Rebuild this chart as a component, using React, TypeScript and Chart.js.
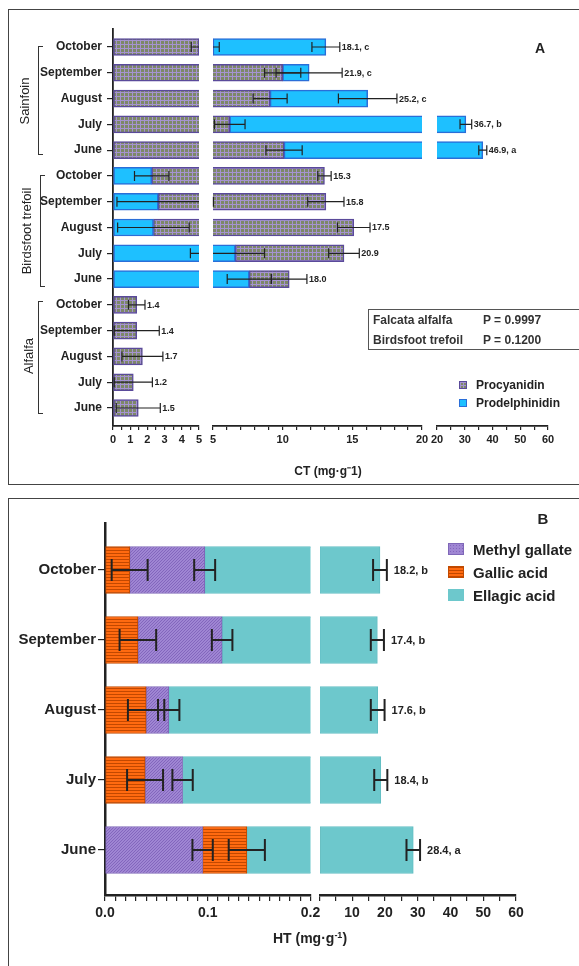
import React, { useEffect, useRef } from 'react';
import { Chart, registerables } from 'chart.js';

Chart.register(...registerables);

const FONT = "'Liberation Sans', Arial, Helvetica, sans-serif";
const INK = '#222222';
Chart.defaults.font.family = FONT;

// ---------------- Panel A : condensed tannins (CT) ----------------
const ctCategories = ['October', 'September', 'August', 'July', 'June', 'October', 'September', 'August', 'July', 'June', 'October', 'September', 'August', 'July', 'June'];
const ctGroups = ['Sainfoin', 'Birdsfoot trefoil', 'Alfalfa'];
// prodelphinidin stacked first (Birdsfoot trefoil rows)
const prodelphinidinFirst = [null, null, null, null, null, 2.25, 2.63, 2.35, 6.6, 7.6, null, null, null, null, null];
const prodelphinidinFirstErr = [null, null, null, null, null, 1.0, 2.4, 2.08, 2.1, 1.58, null, null, null, null, null];
const procyanidin = [5.0, 10.0, 9.1, 6.2, 10.1, 10.75, 10.47, 12.75, 7.8, 2.87, 1.38, 1.38, 1.71, 1.18, 1.47];
const procyanidinErr = [0.45, 1.3, 1.22, 1.1, 1.3, 0.48, 1.3, 1.17, 1.1, 1.27, 0.48, 1.31, 1.19, 1.11, 1.28];
// prodelphinidin stacked after procyanidin (Sainfoin rows)
const prodelphinidin = [8.1, 1.9, 7.0, 24.2, 26.4, null, null, null, null, null, null, null, null, null, null];
const prodelphinidinErr = [1.0, 2.37, 2.1, 2.1, 1.44, null, null, null, null, null, null, null, null, null, null];
const ctValueLabels = ['18.1, c', '21.9, c', '25.2, c', '36.7, b', '46.9, a', '15.3', '15.8', '17.5', '20.9', '18.0', '1.4', '1.4', '1.7', '1.2', '1.5'];
const ctSegRanges = [[0, 5], [5, 20], [20, 60]];
const ctTicks = [
  [0, 0.5, 1, 1.5, 2, 2.5, 3, 3.5, 4, 4.5, 5],
  [5, 6, 7, 8, 9, 10, 11, 12, 13, 14, 15, 16, 17, 18, 19, 20],
  [20, 25, 30, 35, 40, 45, 50, 55, 60],
];
const ctTickLabels = [[0, 1, 2, 3, 4, 5], [5, 10, 15, 20], [20, 30, 40, 50, 60]];

// ---------------- Panel B : hydrolysable tannins (HT) ----------------
const htCategories = ['October', 'September', 'August', 'July', 'June'];
const methylGallateFirst = [null, null, null, null, 0.095];
const methylGallateFirstErr = [null, null, null, null, 0.0099];
const gallicAcid = [0.024, 0.032, 0.040, 0.039, 0.043];
const gallicAcidErr = [0.0175, 0.0178, 0.0177, 0.0175, 0.0176];
const methylGallate = [0.073, 0.082, 0.022, 0.0365, null];
const methylGallateErr = [0.0102, 0.010, 0.0104, 0.0099, null];
const ellagicAcid = [18.4, 17.59, 17.74, 18.67, 28.52];
const ellagicAcidErr = [2.1, 2.0, 2.1, 2.0, 2.07];
const htValueLabels = ['18.2, b', '17.4, b', '17.6, b', '18.4, b', '28.4, a'];
const htSegRanges = [[0, 0.2], [0.2, 60]];
const htTicks = [
  [0, 0.01, 0.02, 0.03, 0.04, 0.05, 0.06, 0.07, 0.08, 0.09, 0.1, 0.11, 0.12, 0.13, 0.14, 0.15, 0.16, 0.17, 0.18, 0.19, 0.2],
  [0.2, 5, 10, 15, 20, 25, 30, 35, 40, 45, 50, 55, 60],
];
const htTickLabels = [[0, 0.1, 0.2], [10, 20, 30, 40, 50, 60]];

type Series = { label: string; data: (number | null)[]; err: (number | null)[]; fill: any; stroke: string };

interface SegSpec {
  canvas: HTMLCanvasElement;
  series: Series[];
  categories: string[];
  yRange: number[];
  xRange: number[];
  ticks: number[];
  tickLabels: number[];
  fmt: (v: number) => string;
  showY: boolean;
  yWidth: number;
  padding: { left: number; right: number; top: number; bottom: number };
  xAxisHeight: number;
  barThickness: number;
  barBorder: number;
  axisWidth: number;
  xTickLen: number;
  xTickPad: number;
  yTickLen: number;
  yTickPad: number;
  tickFont: number;
  catFont: number;
  valueLabels: string[];
  valueFont: number;
  valueGap: number;
  capH: number;
  errWidth: number;
}

function buildSegment(spec: SegSpec): Chart {
  const errPlugin = {
    id: 'errBars',
    afterDatasetsDraw(chart: any) {
      const { ctx } = chart;
      const xs = chart.scales.x;
      const ys = chart.scales.y;
      const n = spec.categories.length;
      const lo = spec.xRange[0];
      const hi = spec.xRange[1];
      const eps = 1e-9;
      const clampV = (v: number) => Math.max(lo, Math.min(hi, v));
      const inside = (v: number) => v >= lo - eps && v <= hi + eps;
      ctx.save();
      ctx.strokeStyle = INK;
      ctx.lineWidth = spec.errWidth;
      for (let j = 0; j < n; j++) {
        let cum = 0;
        const y = ys.getPixelForValue(j);
        for (const s of spec.series) {
          const v = s.data[j];
          if (v == null) continue;
          cum += v;
          const e = s.err[j];
          if (e == null) continue;
          const v1 = cum - e;
          const v2 = cum + e;
          if (v2 < lo - eps || v1 > hi + eps) continue;
          const p1 = xs.getPixelForValue(v1);
          const p2 = xs.getPixelForValue(v2);
          ctx.beginPath();
          ctx.moveTo(xs.getPixelForValue(clampV(v1)), y);
          ctx.lineTo(xs.getPixelForValue(clampV(v2)), y);
          if (inside(v1)) {
            ctx.moveTo(p1, y - spec.capH / 2);
            ctx.lineTo(p1, y + spec.capH / 2);
          }
          if (inside(v2)) {
            ctx.moveTo(p2, y - spec.capH / 2);
            ctx.lineTo(p2, y + spec.capH / 2);
          }
          ctx.stroke();
        }
      }
      ctx.restore();
      ctx.save();
      ctx.font = `bold ${spec.valueFont}px ${FONT}`;
      ctx.fillStyle = INK;
      ctx.textAlign = 'left';
      ctx.textBaseline = 'middle';
      for (let j = 0; j < n; j++) {
        let cum = 0;
        let lastErr = 0;
        for (const s of spec.series) {
          const v = s.data[j];
          if (v == null) continue;
          cum += v;
          lastErr = s.err[j] ?? 0;
        }
        const end = cum + lastErr;
        if (end >= lo && end <= hi) {
          ctx.fillText(spec.valueLabels[j], xs.getPixelForValue(end) + spec.valueGap, ys.getPixelForValue(j) + 0.5);
        }
      }
      ctx.restore();
    },
  };

  return new Chart(spec.canvas, {
    type: 'bar',
    data: {
      datasets: spec.series.map((s) => ({
        label: s.label,
        data: s.data.flatMap((v, j) => (v == null ? [] : [{ x: v, y: j }])),
        backgroundColor: s.fill,
        borderColor: s.stroke,
        borderWidth: spec.barBorder,
        borderSkipped: false,
        barThickness: spec.barThickness,
        clip: 0,
      })) as any,
    },
    options: {
      indexAxis: 'y',
      responsive: false,
      animation: false,
      devicePixelRatio: 1,
      events: [],
      layout: { padding: spec.padding, autoPadding: false } as any,
      plugins: { legend: { display: false }, tooltip: { enabled: false }, title: { display: false } },
      scales: {
        x: {
          type: 'linear',
          stacked: true,
          min: spec.xRange[0],
          max: spec.xRange[1],
          bounds: 'data',
          z: 1,
          afterBuildTicks: (s: any) => {
            s.ticks = spec.ticks.map((v) => ({ value: v }));
          },
          afterFit: (s: any) => {
            s.height = spec.xAxisHeight;
          },
          ticks: {
            autoSkip: false,
            maxRotation: 0,
            minRotation: 0,
            padding: spec.xTickPad,
            color: INK,
            font: { family: FONT, size: spec.tickFont, weight: 'bold' },
            callback: (v: any) => (spec.tickLabels.some((t) => Math.abs(t - v) < 1e-9) ? spec.fmt(Number(v)) : ''),
          },
          grid: { display: true, drawOnChartArea: false, drawTicks: true, tickLength: spec.xTickLen, color: INK, lineWidth: 1.2 },
          border: { display: true, color: INK, width: spec.axisWidth },
        },
        y: {
          type: 'linear',
          stacked: true,
          min: spec.yRange[0],
          max: spec.yRange[1],
          reverse: true,
          offset: false,
          bounds: 'data',
          display: spec.showY,
          z: 1,
          afterBuildTicks: (s: any) => {
            s.ticks = spec.categories.map((_, i) => ({ value: i }));
          },
          afterFit: (s: any) => {
            s.width = spec.showY ? spec.yWidth : 0;
          },
          ticks: {
            autoSkip: false,
            padding: spec.yTickPad,
            color: INK,
            font: { family: FONT, size: spec.catFont, weight: 'bold' },
            callback: (v: any) => spec.categories[Number(v)] ?? '',
          },
          grid: { display: true, drawOnChartArea: false, drawTicks: true, tickLength: spec.yTickLen, color: INK, lineWidth: 1.2, offset: false },
          border: { display: true, color: INK, width: spec.axisWidth },
        },
      } as any,
    },
    plugins: [errPlugin],
  } as any);
}

function makePattern(kind: string): any {
  const t = document.createElement('canvas');
  const c = t.getContext('2d')!;
  if (kind === 'pc') {
    t.width = 4; t.height = 4;
    c.fillStyle = '#7d8868'; c.fillRect(0, 0, 4, 4);
    c.fillStyle = '#a593d0'; c.fillRect(0, 0, 4, 1); c.fillRect(0, 0, 1, 4);
  } else if (kind === 'mg') {
    t.width = 3; t.height = 3;
    c.fillStyle = '#9f86d3'; c.fillRect(0, 0, 3, 3);
    c.fillStyle = '#8366bd'; c.fillRect(0, 0, 1, 1); c.fillRect(2, 1, 1, 1); c.fillRect(1, 2, 1, 1);
  } else {
    t.width = 4; t.height = 3;
    c.fillStyle = '#ff6a10'; c.fillRect(0, 0, 4, 3);
    c.fillStyle = '#c24800'; c.fillRect(0, 0, 4, 1);
  }
  return c.createPattern(t, 'repeat');
}

const PC_STROKE = '#5a4a9a';
const PD_FILL = '#1ec0ff';
const PD_STROKE = '#2a6ed8';
const MG_STROKE = '#7f67b8';
const GA_STROKE = '#c04a00';
const EA_FILL = '#6dc8cc';
const EA_STROKE = '#63bec3';

function Txt(props: { x: number; y: number; size: number; bold?: boolean; align?: string; rotate?: boolean; color?: string; children: any }) {
  const { x, y, size, bold = true, align = 'left', rotate = false, color = INK, children } = props;
  const tx = align === 'center' ? '-50%' : '0';
  return (
    <div
      style={{
        position: 'absolute',
        left: x,
        top: y,
        transform: `translate(${tx}, -50%)` + (rotate ? ' rotate(-90deg)' : ''),
        whiteSpace: 'nowrap',
        fontSize: size,
        fontWeight: bold ? 700 : 400,
        lineHeight: 1,
        color,
        fontFamily: FONT,
      }}
    >
      {children}
    </div>
  );
}

function Bracket({ x, top, bottom }: { x: number; top: number; bottom: number }) {
  return (
    <div
      style={{
        position: 'absolute',
        left: x,
        top,
        width: 5,
        height: bottom - top,
        borderLeft: '1.5px solid #333',
        borderTop: '1.5px solid #333',
        borderBottom: '1.5px solid #333',
        boxSizing: 'border-box',
      }}
    />
  );
}

function Swatch({ x, y, w, h, style }: { x: number; y: number; w: number; h: number; style: any }) {
  return <div style={{ position: 'absolute', left: x, top: y, width: w, height: h, boxSizing: 'border-box', ...style }} />;
}

export default function App() {
  const a1 = useRef<HTMLCanvasElement>(null);
  const a2 = useRef<HTMLCanvasElement>(null);
  const a3 = useRef<HTMLCanvasElement>(null);
  const b1 = useRef<HTMLCanvasElement>(null);
  const b2 = useRef<HTMLCanvasElement>(null);

  useEffect(() => {
    const pc = makePattern('pc');
    const mg = makePattern('mg');
    const ga = makePattern('ga');
    const ctSeries: Series[] = [
      { label: 'Prodelphinidin', data: prodelphinidinFirst, err: prodelphinidinFirstErr, fill: PD_FILL, stroke: PD_STROKE },
      { label: 'Procyanidin', data: procyanidin, err: procyanidinErr, fill: pc, stroke: PC_STROKE },
      { label: 'Prodelphinidin', data: prodelphinidin, err: prodelphinidinErr, fill: PD_FILL, stroke: PD_STROKE },
    ];
    const htSeries: Series[] = [
      { label: 'Methyl gallate', data: methylGallateFirst, err: methylGallateFirstErr, fill: mg, stroke: MG_STROKE },
      { label: 'Gallic acid', data: gallicAcid, err: gallicAcidErr, fill: ga, stroke: GA_STROKE },
      { label: 'Methyl gallate', data: methylGallate, err: methylGallateErr, fill: mg, stroke: MG_STROKE },
      { label: 'Ellagic acid', data: ellagicAcid, err: ellagicAcidErr, fill: EA_FILL, stroke: EA_STROKE },
    ];
    const ctCommon = {
      series: ctSeries,
      categories: ctCategories,
      yRange: [-0.698, 14.698],
      xAxisHeight: 30,
      barThickness: 17,
      barBorder: 1.5,
      axisWidth: 1.8,
      xTickLen: 4,
      xTickPad: 3,
      yTickLen: 6,
      yTickPad: 5,
      tickFont: 11,
      catFont: 12,
      valueLabels: ctValueLabels,
      valueFont: 9,
      valueGap: 2,
      capH: 10,
      errWidth: 1.2,
      fmt: (v: number) => String(v),
    };
    const ctPads = [
      { left: 0, right: 380, top: 29, bottom: 28 },
      { left: 213, right: 157, top: 29, bottom: 28 },
      { left: 437, right: 31, top: 29, bottom: 28 },
    ];
    const htCommon = {
      series: htSeries,
      categories: htCategories,
      yRange: [-0.671, 4.643],
      xAxisHeight: 30,
      barThickness: 47,
      barBorder: 1,
      axisWidth: 2.5,
      xTickLen: 6,
      xTickPad: 4,
      yTickLen: 7,
      yTickPad: 2,
      tickFont: 14,
      catFont: 15,
      valueLabels: htValueLabels,
      valueFont: 11,
      valueGap: 7,
      capH: 22,
      errWidth: 2,
    };
    const htPads = [
      { left: 0, right: 268.5, top: 24, bottom: 41 },
      { left: 320, right: 63, top: 24, bottom: 41 },
    ];
    const charts: Chart[] = [];
    [a1, a2, a3].forEach((r, i) => {
      charts.push(
        buildSegment({
          ...ctCommon,
          canvas: r.current!,
          xRange: ctSegRanges[i],
          ticks: ctTicks[i],
          tickLabels: ctTickLabels[i],
          showY: i === 0,
          yWidth: 113,
          padding: ctPads[i],
        } as SegSpec)
      );
    });
    [b1, b2].forEach((r, i) => {
      charts.push(
        buildSegment({
          ...htCommon,
          canvas: r.current!,
          xRange: htSegRanges[i],
          ticks: htTicks[i],
          tickLabels: htTickLabels[i],
          showY: i === 0,
          yWidth: 105,
          padding: htPads[i],
          fmt: i === 0 ? (v: number) => v.toFixed(1) : (v: number) => String(v),
        } as SegSpec)
      );
    });
    return () => charts.forEach((c) => c.destroy());
  }, []);

  const canvasA = { position: 'absolute' as const, left: 0, top: 0 };
  const canvasB = { position: 'absolute' as const, left: 0, top: 499 };

  return (
    <div style={{ position: 'absolute', left: 0, top: 0, width: 579, height: 966, overflow: 'hidden', background: '#fff', fontFamily: FONT }}>
      {/* panel frames */}
      <div style={{ position: 'absolute', left: 8, top: 9, width: 700, height: 476, border: '1.5px solid #444', boxSizing: 'border-box' }} />
      <div style={{ position: 'absolute', left: 8, top: 498, width: 700, height: 600, border: '1.5px solid #444', boxSizing: 'border-box' }} />

      <canvas ref={a1} width={579} height={484} style={canvasA} />
      <canvas ref={a2} width={579} height={484} style={canvasA} />
      <canvas ref={a3} width={579} height={484} style={canvasA} />
      <canvas ref={b1} width={579} height={467} style={canvasB} />
      <canvas ref={b2} width={579} height={467} style={canvasB} />

      {/* Panel A annotations */}
      <Txt x={540} y={48} size={14} align="center">A</Txt>
      <Bracket x={38} top={46} bottom={155} />
      <Bracket x={40} top={175} bottom={287} />
      <Bracket x={38} top={301} bottom={414} />
      <Txt x={24} y={101} size={13} bold={false} align="center" rotate>{ctGroups[0]}</Txt>
      <Txt x={26} y={231} size={13} bold={false} align="center" rotate>{ctGroups[1]}</Txt>
      <Txt x={28} y={356} size={13} bold={false} align="center" rotate>{ctGroups[2]}</Txt>

      <div style={{ position: 'absolute', left: 368, top: 309, width: 260, height: 41, border: '1.5px solid #555', boxSizing: 'border-box' }} />
      <Txt x={373} y={320} size={12} color="#333">Falcata alfalfa</Txt>
      <Txt x={483} y={320} size={12} color="#333">P = 0.9997</Txt>
      <Txt x={373} y={340} size={12} color="#333">Birdsfoot trefoil</Txt>
      <Txt x={483} y={340} size={12} color="#333">P = 0.1200</Txt>

      <Swatch x={459} y={381} w={8} h={8} style={{ backgroundColor: '#7d8868', backgroundImage: 'linear-gradient(to bottom, #a593d0 1px, transparent 1px), linear-gradient(to right, #a593d0 1px, transparent 1px)', backgroundSize: '3px 3px', border: `1px solid ${PC_STROKE}` }} />
      <Txt x={476} y={385} size={12}>Procyanidin</Txt>
      <Swatch x={459} y={399} w={8} h={8} style={{ backgroundColor: PD_FILL, border: `1px solid ${PD_STROKE}` }} />
      <Txt x={476} y={403} size={12}>Prodelphinidin</Txt>

      <Txt x={328} y={471} size={12} align="center">CT (mg·g⁻1)</Txt>

      {/* Panel B annotations */}
      <Txt x={543} y={518} size={15} align="center">B</Txt>
      <Swatch x={448} y={543} w={16} h={12} style={{ backgroundColor: '#9f86d3', backgroundImage: 'radial-gradient(#8366bd 0.8px, transparent 1px)', backgroundSize: '3px 3px', border: `1px solid ${MG_STROKE}` }} />
      <Txt x={473} y={549} size={15}>Methyl gallate</Txt>
      <Swatch x={448} y={566} w={16} h={12} style={{ backgroundImage: 'repeating-linear-gradient(to bottom, #c24800 0px, #c24800 1px, #ff6a10 1px, #ff6a10 3px)', border: `1px solid ${GA_STROKE}` }} />
      <Txt x={473} y={572} size={15}>Gallic acid</Txt>
      <Swatch x={448} y={589} w={16} h={12} style={{ backgroundColor: EA_FILL }} />
      <Txt x={473} y={595} size={15}>Ellagic acid</Txt>

      <Txt x={310} y={938} size={14} align="center">
        HT (mg·g<sup style={{ fontSize: 9 }}>-1</sup>)
      </Txt>
    </div>
  );
}
